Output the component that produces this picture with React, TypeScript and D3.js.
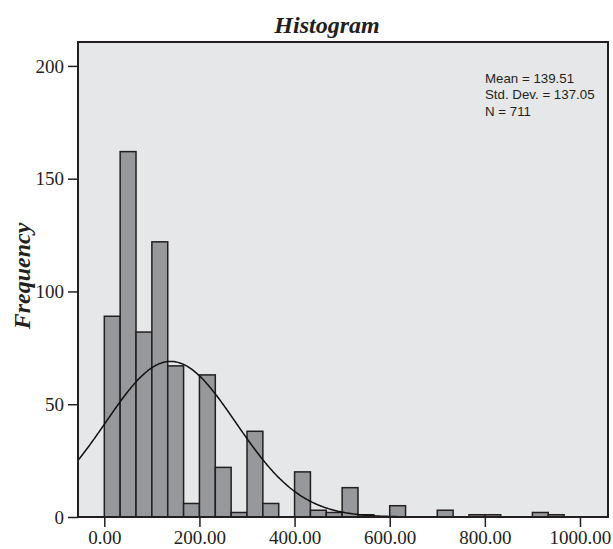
import React, { useEffect, useRef } from "react";
import * as d3 from "d3";

// frequency per bin (bin width = 1000/30)
const binWidth = 1000 / 30;
const counts = [89, 162, 82, 122, 67, 6, 63, 22, 2, 38, 6, 0, 20, 3, 2, 13, 1, 0, 5, 0, 0, 3, 0, 1, 1, 0, 0, 2, 1];
const xTicks = [0, 200, 400, 600, 800, 1000];
const yTicks = [0, 50, 100, 150, 200];
const statsLines = ["Mean = 139.51", "Std. Dev. = 137.05", "N = 711"];
const mean = 139.51;
const sd = 137.05;
const n = 711;

const W = 613;
const H = 549;

export default function App() {
  const ref = useRef<SVGSVGElement | null>(null);

  useEffect(() => {
    const svg = d3.select(ref.current);
    svg.selectAll("*").remove();

    const left = 78,
      right = 608,
      top = 42,
      bottom = 517;

    const x = d3.scaleLinear().domain([-55.3, 1058.9]).range([left, right]);
    const y = d3.scaleLinear().domain([0, 210.6]).range([bottom, top]);

    const serif = "'Liberation Serif', 'Times New Roman', serif";
    const ink = "#231f20";

    // plot background
    svg
      .append("rect")
      .attr("x", left)
      .attr("y", top)
      .attr("width", right - left)
      .attr("height", bottom - top)
      .attr("fill", "#e6e7e9");

    const bins = counts.map((c, i) => ({ x0: i * binWidth, x1: (i + 1) * binWidth, c }));

    svg
      .append("g")
      .selectAll("rect")
      .data(bins.filter((d) => d.c > 0))
      .join("rect")
      .attr("x", (d) => x(d.x0))
      .attr("y", (d) => y(d.c))
      .attr("width", (d) => x(d.x1) - x(d.x0))
      .attr("height", (d) => y(0) - y(d.c))
      .attr("fill", "#97989b")
      .attr("stroke", ink)
      .attr("stroke-width", 1.5);

    // normal curve
    const scale = (n * binWidth) / (sd * Math.sqrt(2 * Math.PI));
    const xs = d3.range(-55.3, 1058.9, 2);
    const line = d3
      .line<number>()
      .x((v) => x(v))
      .y((v) => y(scale * Math.exp(-0.5 * ((v - mean) / sd) ** 2)))
      .curve(d3.curveBasis);
    svg
      .append("path")
      .datum(xs)
      .attr("d", line)
      .attr("fill", "none")
      .attr("stroke", "#111")
      .attr("stroke-width", 1.5);

    // frame
    svg
      .append("rect")
      .attr("x", left)
      .attr("y", top)
      .attr("width", right - left)
      .attr("height", bottom - top)
      .attr("fill", "none")
      .attr("stroke", ink)
      .attr("stroke-width", 2);

    const xAxis = svg
      .append("g")
      .attr("transform", `translate(0,${bottom})`)
      .call(d3.axisBottom(x).tickValues(xTicks).tickFormat(d3.format(".2f")).tickSize(10).tickPadding(4));
    xAxis.select(".domain").remove();
    xAxis.selectAll("line").attr("stroke", ink).attr("stroke-width", 1.5);
    xAxis
      .selectAll("text")
      .attr("font-family", serif)
      .attr("font-size", 19)
      .attr("fill", ink);

    const yAxis = svg
      .append("g")
      .attr("transform", `translate(${left},0)`)
      .call(d3.axisLeft(y).tickValues(yTicks).tickSize(10).tickPadding(4));
    yAxis.select(".domain").remove();
    yAxis.selectAll("line").attr("stroke", ink).attr("stroke-width", 1.5);
    yAxis
      .selectAll("text")
      .attr("font-family", serif)
      .attr("font-size", 19)
      .attr("fill", ink);

    svg
      .append("text")
      .attr("x", 327)
      .attr("y", 33)
      .attr("text-anchor", "middle")
      .attr("font-family", serif)
      .attr("font-weight", "bold")
      .attr("font-style", "italic")
      .attr("font-size", 24)
      .attr("fill", ink)
      .text("Histogram");

    svg
      .append("text")
      .attr("transform", `translate(30,276) rotate(-90)`)
      .attr("text-anchor", "middle")
      .attr("font-family", serif)
      .attr("font-weight", "bold")
      .attr("font-style", "italic")
      .attr("font-size", 24)
      .attr("fill", ink)
      .text("Frequency");

    svg
      .append("g")
      .selectAll("text")
      .data(statsLines)
      .join("text")
      .attr("x", 485)
      .attr("y", (d, i) => 83 + i * 16.4)
      .attr("font-family", "'Liberation Sans', Arial, sans-serif")
      .attr("font-size", 13.3)
      .attr("fill", ink)
      .text((d) => d);
  }, []);

  return (
    <svg
      ref={ref}
      width={W}
      height={H}
      style={{ position: "absolute", left: 0, top: 0, background: "#fff" }}
    ></svg>
  );
}
